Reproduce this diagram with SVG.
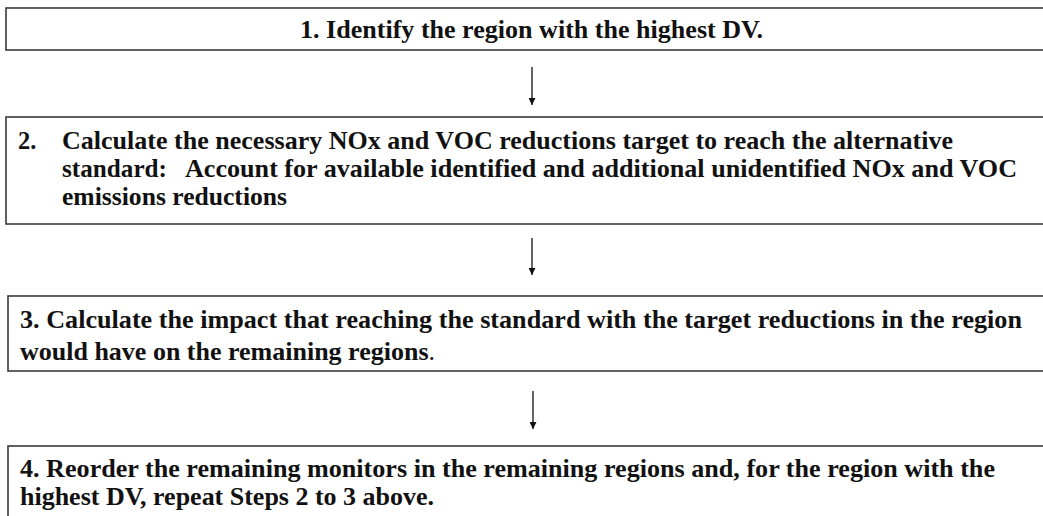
<svg xmlns="http://www.w3.org/2000/svg" width="1043" height="516" viewBox="0 0 1043 516">
<defs>
<marker id="ah" viewBox="0 0 10 10" refX="10" refY="5" markerWidth="7" markerHeight="7" markerUnits="userSpaceOnUse" orient="auto">
<path d="M0,0 L10,5 L0,10 z" fill="#111"/>
</marker>
</defs>
<style>
.box{fill:#fff;stroke:#3a3a3a;stroke-width:1.6}
.t{font-family:"Liberation Serif","Times New Roman",serif;font-weight:bold;font-size:24.5px;fill:#111}
.n{font-weight:normal}
.c{stroke:#111;stroke-width:1.3;fill:none}
</style>
<rect width="1043" height="516" fill="#fff"/>
<g id="step1">
<rect class="box" x="6" y="8" width="1050" height="42"/>
<text class="t" x="300" y="38" textLength="463" lengthAdjust="spacingAndGlyphs">1. Identify the region with the highest DV.</text>
</g>
<g id="step2">
<rect class="box" x="6" y="117" width="1050" height="107"/>
<text class="t" x="18" y="148.5">2.</text>
<text class="t" x="62" y="148.5" textLength="891" lengthAdjust="spacingAndGlyphs">Calculate the necessary NOx and VOC reductions target to reach the alternative</text>
<text class="t" x="62" y="177" textLength="105" lengthAdjust="spacingAndGlyphs">standard:</text>
<text class="t" x="185" y="177" textLength="832" lengthAdjust="spacingAndGlyphs">Account for available identified and additional unidentified NOx and VOC</text>
<text class="t" x="62" y="205" textLength="225" lengthAdjust="spacingAndGlyphs">emissions reductions</text>
</g>
<g id="step3">
<rect class="box" x="8" y="296" width="1050" height="75"/>
<text class="t" x="20" y="328" textLength="1002" lengthAdjust="spacingAndGlyphs">3. Calculate the impact that reaching the standard with the target reductions in the region</text>
<text class="t" x="20" y="360" textLength="415" lengthAdjust="spacingAndGlyphs">would have on the remaining regions<tspan class="n">.</tspan></text>
</g>
<g id="step4">
<rect class="box" x="8" y="446" width="1050" height="100"/>
<text class="t" x="20" y="477" textLength="975" lengthAdjust="spacingAndGlyphs">4. Reorder the remaining monitors in the remaining regions and, for the region with the</text>
<text class="t" x="20" y="505" textLength="414" lengthAdjust="spacingAndGlyphs">highest DV, repeat Steps 2 to 3 above.</text>
</g>
<g id="connectors">
<line class="c" x1="532" y1="67" x2="532" y2="105" marker-end="url(#ah)"/>
<line class="c" x1="532" y1="238" x2="532" y2="275" marker-end="url(#ah)"/>
<line class="c" x1="533" y1="391" x2="533" y2="429" marker-end="url(#ah)"/>
</g>
</svg>
